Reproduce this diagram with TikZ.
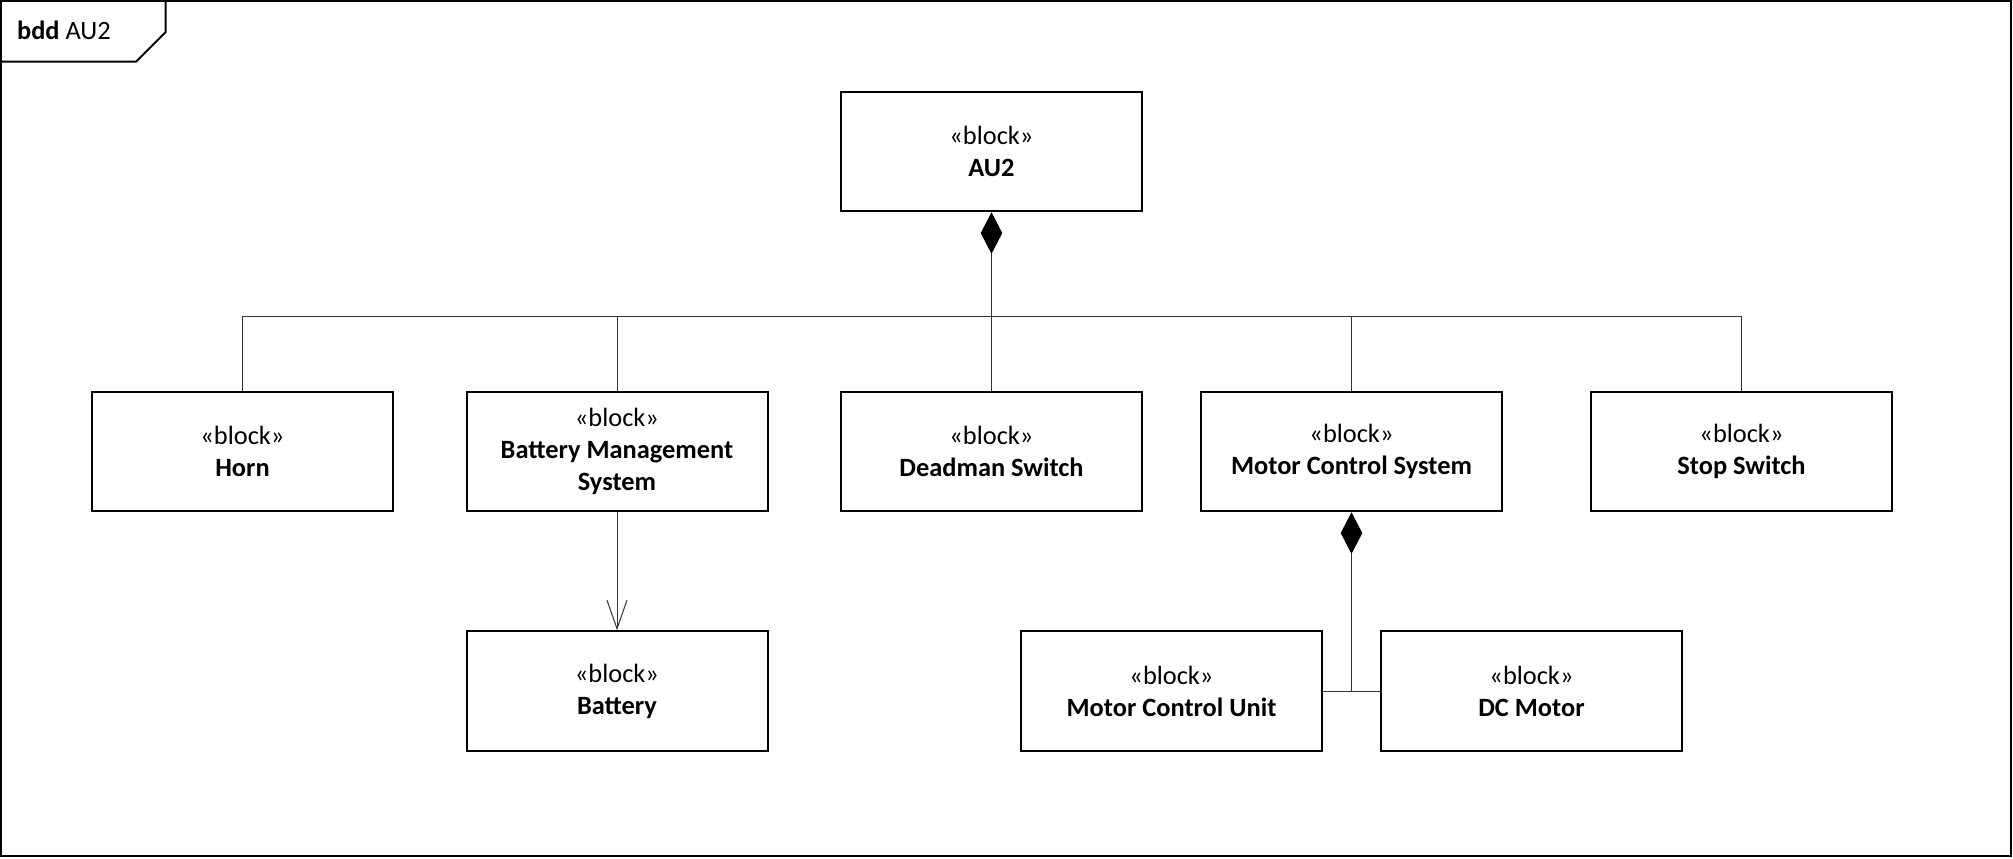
\documentclass[tikz,border=0pt]{standalone}
\usepackage{fontspec}
\setmainfont{Carlito}
\usetikzlibrary{arrows.meta}

\begin{document}
\begin{tikzpicture}[x=0.5pt,y=-0.5pt,
    blk/.style={draw,line width=1pt,minimum width=150.5pt,minimum height=59.75pt,
        inner sep=0pt,align=center,font=\fontsize{13.2}{16}\selectfont},
    con/.style={draw=black!80,line width=0.5pt},
    comp/.style={con,{Diamond[length=20.8pt,width=10.8pt,color=black]}-}]
    \useasboundingbox (0,0) rectangle (2013,858);
    \draw [line width=1pt] (1,1) rectangle (2011,856);
    \draw [line width=1pt] (1,61.7) -- (136,61.7) -- (165.7,32) -- (165.7,1); %frame tab
    \node (tab) [anchor=base west,inner sep=0pt,font=\fontsize{13.2}{16}\selectfont] at (16.7,39.3) {\textbf{bdd} AU2};
		\node (au2) [blk] at (991.5,151.5) {«block»\\\textbf{AU2}};
		\node (horn) [blk] at (242.5,451.5) {«block»\\\textbf{Horn}};
		\node (bms) [blk] at (617,451.5) {«block»\\\textbf{Battery Management}\\\textbf{System}};
		\node (dms) [blk] at (991.5,451.5) {«block»\\\textbf{Deadman Switch}};
		\node (mcs) [blk] at (1351.5,451.5) {«block»\\\textbf{Motor Control System}};
		\node (stop) [blk] at (1741.5,451.5) {«block»\\\textbf{Stop Switch}};
		\node (bat) [blk] at (617,691) {«block»\\\textbf{Battery}};
		\node (mcu) [blk] at (1171.5,691) {«block»\\\textbf{Motor Control Unit}};
		\node (dcm) [blk] at (1531.5,691) {«block»\\\textbf{DC Motor}};
		\coordinate (bus) at (991.5,316.7); %top tree
		\coordinate (jn) at (1351.5,691); %bottom tree
		\draw [comp] (au2.south) -- (bus) -- (dms.north);
		\draw [con] (horn.north) |- (bus) -| (stop.north);
		\draw [con] (bms.north) |- (bus);
		\draw [con] (mcs.north) |- (bus);
		\draw [con,-{Straight Barb[length=14.3pt,width=10pt]}] (bms) -- (bat);
		\draw [comp] (mcs.south) -- (jn);
		\draw [con] (mcu.east) -- (jn) -- (dcm.west);
    \end{tikzpicture}
\end{document}
